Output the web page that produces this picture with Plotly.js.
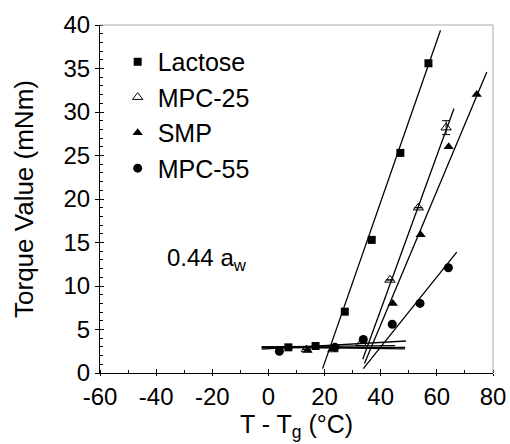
<!DOCTYPE html>
<html>
<head>
<meta charset="utf-8">
<script src="https://cdn.plot.ly/plotly-3.0.1.min.js"></script>
<style>html,body{margin:0;padding:0;background:#fff;}#chart{width:510px;height:444px;}</style>
</head>
<body>
<div id="chart"></div>
<script>
// ---- data ----
const seriesNames = ["Lactose", "MPC-25", "SMP", "MPC-55"];

const lactoseX = [7.1, 16.8, 27.2, 36.8, 47.0, 57.0];
const lactoseY = [2.95, 3.1, 7.05, 15.3, 25.3, 35.6];

const mpc25X = [13.5, 23.0, 33.0, 43.3, 53.4, 63.3];
const mpc25Y = [2.7, 2.7, 3.4, 10.7, 19.0, 28.2];
const mpc25Err = [0, 0, 0, 0, 0, 0.8];

const smpX = [13.9, 23.0, 44.3, 54.2, 64.2, 74.2];
const smpY = [2.6, 2.8, 8.0, 15.9, 26.0, 32.0];

const mpc55X = [3.9, 23.7, 33.8, 44.1, 54.0, 64.1];
const mpc55Y = [2.5, 2.95, 3.85, 5.6, 8.0, 12.1];

// fitted lines (end points)
const lactoseLowX = [-2.4, 45.1];   const lactoseLowY = [3.0, 3.15];
const mpc25LowX   = [-2.4, 48.7];   const mpc25LowY   = [2.9, 2.95];
const smpLowX     = [-2.4, 48.7];   const smpLowY     = [3.0, 2.78];
const mpc55LowX   = [-2.4, 49.0];   const mpc55LowY   = [2.75, 3.68];

const lactoseHighX = [19.3, 61.3];  const lactoseHighY = [0.5, 39.4];
const mpc25HighX   = [33.6, 66.1];  const mpc25HighY   = [1.57, 30.4];
const smpHighX     = [34.2, 77.8];  const smpHighY     = [1.1, 34.6];
const mpc55HighX   = [33.8, 67.1];  const mpc55HighY   = [0.5, 13.9];

const xTickVals = [-60, -40, -20, 0, 20, 40, 60, 80];
const xTickText = ["-60", "-40", "-20", "0", "20", "40", "60", "80"];
const yTickVals = [0, 5, 10, 15, 20, 25, 30, 35, 40];
const yTickText = ["0", "5", "10", "15", "20", "25", "30", "35", "40"];

// ---- traces ----
const FONT = "Liberation Sans, Arial, Helvetica, sans-serif";
function fitLine(x, y) {
  return {x: x, y: y, type: "scatter", mode: "lines", showlegend: false,
          hoverinfo: "skip", line: {color: "#000", width: 1.3}};
}
const traces = [
  fitLine(lactoseLowX, lactoseLowY), fitLine(mpc25LowX, mpc25LowY),
  fitLine(smpLowX, smpLowY), fitLine(mpc55LowX, mpc55LowY),
  fitLine(lactoseHighX, lactoseHighY), fitLine(mpc25HighX, mpc25HighY),
  fitLine(smpHighX, smpHighY), fitLine(mpc55HighX, mpc55HighY),
  {x: lactoseX, y: lactoseY, name: seriesNames[0], type: "scatter", mode: "markers",
   legendgroup: "a", marker: {symbol: "square", size: 8, color: "#000"}},
  {x: mpc25X, y: mpc25Y, name: seriesNames[1], type: "scatter", mode: "markers",
   legendgroup: "b",
   error_y: {type: "data", array: mpc25Err, visible: true, color: "#000", thickness: 1, width: 4},
   marker: {symbol: "triangle-up-open", size: 9, color: "#000", line: {width: 1, color: "#000"}}},
  {x: smpX, y: smpY, name: seriesNames[2], type: "scatter", mode: "markers",
   legendgroup: "c", marker: {symbol: "triangle-up", size: 9, color: "#000"}},
  {x: mpc55X, y: mpc55Y, name: seriesNames[3], type: "scatter", mode: "markers",
   legendgroup: "d", marker: {symbol: "circle", size: 9, color: "#000"}}
];
// invisible trace to carry the crossing (inside) major ticks
traces.push({x: [0], y: [0], xaxis: "x2", yaxis: "y2", mode: "markers",
             marker: {opacity: 0}, showlegend: false, hoverinfo: "skip", type: "scatter"});

const layout = {
  width: 510, height: 444,
  margin: {l: 100, r: 17, t: 25, b: 71},
  paper_bgcolor: "#fff", plot_bgcolor: "#fff",
  font: {family: FONT, color: "#000", size: 24},
  showlegend: true,
  legend: {x: 0.045, y: 0.96, xanchor: "left", yanchor: "top",
           font: {family: FONT, size: 25, color: "#000"},
           bgcolor: "rgba(0,0,0,0)", tracegroupgap: 5, traceorder: "normal"},
  xaxis: {range: [-60, 80], tickvals: xTickVals, ticktext: xTickText, ticks: "outside", ticklen: 2,
          tickwidth: 1, tickcolor: "#000", showline: true, linecolor: "#000", linewidth: 1,
          showgrid: false, zeroline: false, tickfont: {size: 24},
          minor: {dtick: 10, ticks: "inside", ticklen: 3, tickcolor: "#000", showgrid: false},
          title: {text: "T - T<sub>g</sub> (°C)", font: {size: 25}, standoff: 6}},
  yaxis: {range: [0, 40], tickvals: yTickVals, ticktext: yTickText, ticks: "outside", ticklen: 4,
          tickwidth: 1, tickcolor: "#000", showline: true, linecolor: "#000", linewidth: 1,
          showgrid: false, zeroline: false, tickfont: {size: 24},
          minor: {dtick: 1, ticks: "inside", ticklen: 3, tickcolor: "#000", showgrid: false},
          title: {text: "Torque Value (mNm)", font: {size: 26}, standoff: 22}},
  xaxis2: {overlaying: "x", anchor: "y2", range: [-60, 80], tickvals: xTickVals,
           ticks: "inside", ticklen: 4, tickcolor: "#000", showticklabels: false,
           showgrid: false, zeroline: false, showline: false},
  yaxis2: {overlaying: "y", anchor: "x2", range: [0, 40], tickvals: yTickVals,
           ticks: "inside", ticklen: 4, tickcolor: "#000", showticklabels: false,
           showgrid: false, zeroline: false, showline: false},
  shapes: [
    {type: "line", xref: "paper", yref: "paper", x0: 0, x1: 1, y0: 1, y1: 1,
     line: {color: "#aaa", width: 1}},
    {type: "line", xref: "paper", yref: "paper", x0: 1, x1: 1, y0: 0, y1: 1,
     line: {color: "#aaa", width: 1}}
  ],
  annotations: [
    {text: "0.44 a<sub>w</sub>", x: -36.8, y: 13.1, xref: "x", yref: "y",
     xanchor: "left", showarrow: false, font: {family: FONT, size: 24, color: "#000"}}
  ]
};

Plotly.newPlot("chart", traces, layout, {displayModeBar: false, staticPlot: true});
</script>
</body>
</html>
